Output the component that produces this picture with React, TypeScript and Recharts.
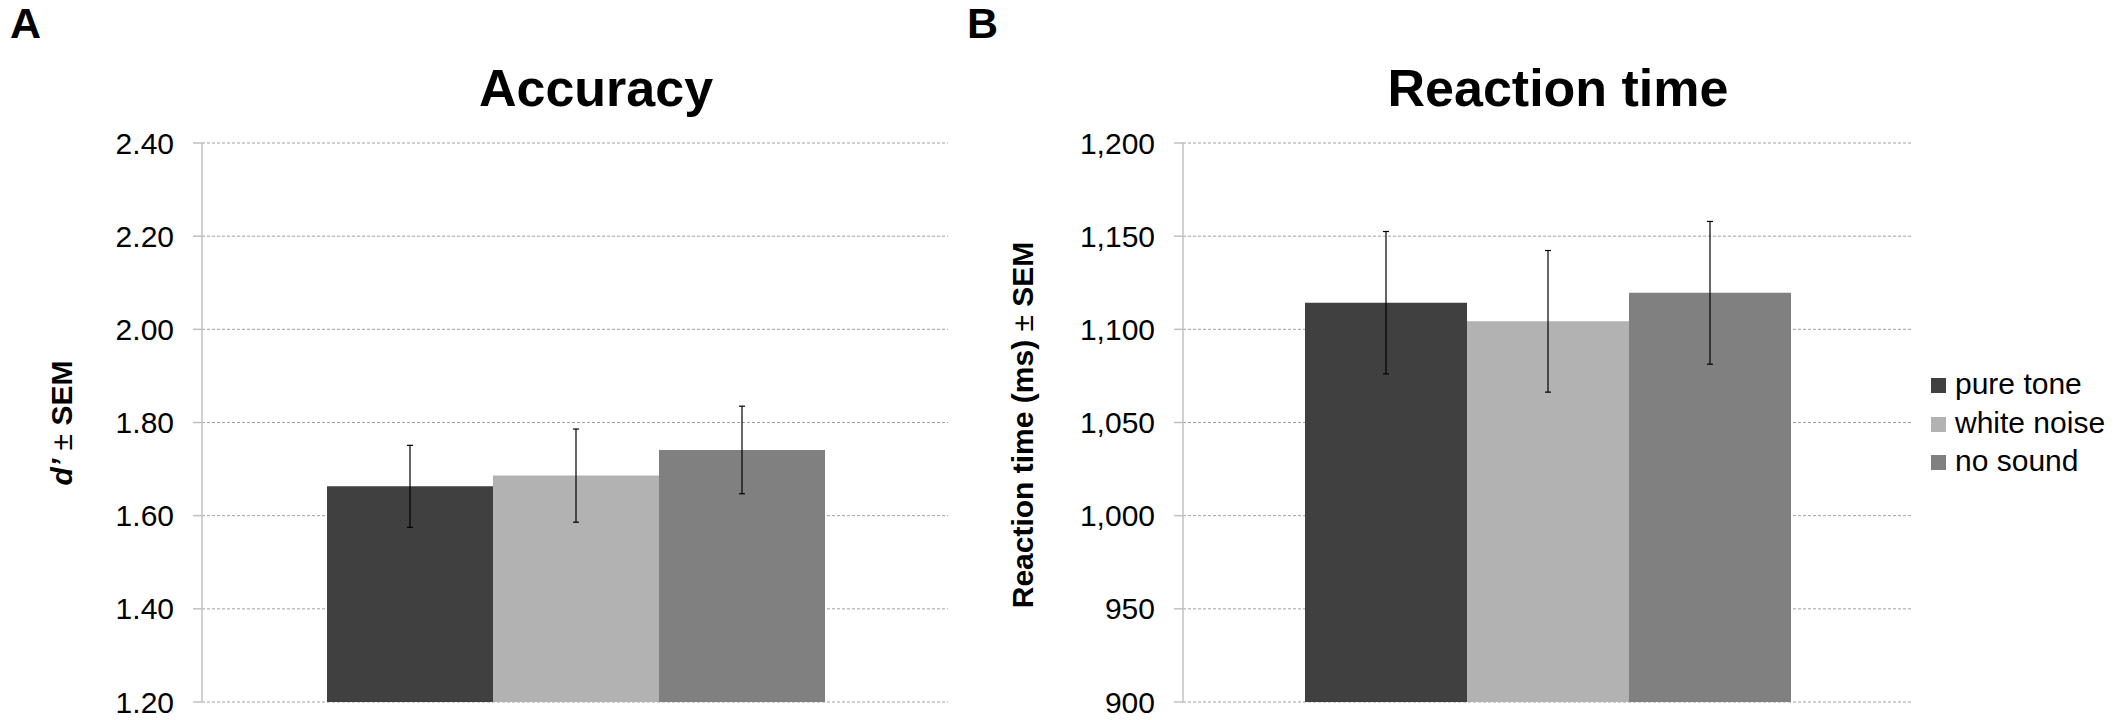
import React from 'react';
import { BarChart, Bar, XAxis, YAxis, CartesianGrid, ErrorBar, Label } from 'recharts';

const conditions = ['pure tone', 'white noise', 'no sound'];
const seriesKeys = ['pureTone', 'whiteNoise', 'noSound'];
const colors = ['#404040', '#b2b2b2', '#808080'];

const accuracyMeans = [1.663, 1.686, 1.741];
const accuracySem = [0.088, 0.1, 0.094];
const accuracyTicks = [1.2, 1.4, 1.6, 1.8, 2.0, 2.2, 2.4];

const rtMeans = [1114.3, 1104.3, 1119.6];
const rtSem = [38.2, 38.0, 38.3];
const rtTicks = [900, 950, 1000, 1050, 1100, 1150, 1200];

const FONT = '"Liberation Sans", Arial, Helvetica, sans-serif';

const buildRow = (means: number[], sems: number[]) => {
  const row: Record<string, any> = { group: '' };
  seriesKeys.forEach((k, i) => {
    row[k] = means[i];
    row[k + 'Err'] = sems[i];
  });
  return [row];
};

const accuracyData = buildRow(accuracyMeans, accuracySem);
const rtData = buildRow(rtMeans, rtSem);

interface PanelProps {
  data: any[];
  ticks: number[];
  width: number;
  margin: { top: number; right: number; bottom: number; left: number };
  yAxisWidth: number;
  padding: { left: number; right: number };
  format: (v: number) => string;
  label: React.ReactNode;
}

const Panel = ({ data, ticks, width, margin, yAxisWidth, padding, format, label }: PanelProps) => (
  <BarChart width={width} height={720} data={data} margin={margin} barCategoryGap={0} barGap={0}>
    <CartesianGrid vertical={false} stroke="#a0a0a0" strokeDasharray="3 2" />
    <XAxis dataKey="group" hide padding={padding} />
    <YAxis
      width={yAxisWidth}
      domain={[ticks[0], ticks[ticks.length - 1]]}
      ticks={ticks}
      interval={0}
      tickFormatter={format}
      tickSize={9}
      tickMargin={19}
      axisLine={{ stroke: '#c0c0c0', strokeWidth: 1.5 }}
      tickLine={{ stroke: '#c0c0c0', strokeWidth: 1.5 }}
      tick={{ fill: '#000', fontSize: 30, fontFamily: FONT }}
    >
      <Label content={() => label} />
    </YAxis>
    {seriesKeys.map((k, i) => (
      <Bar key={k} dataKey={k} name={conditions[i]} fill={colors[i]} isAnimationActive={false}>
        <ErrorBar dataKey={k + 'Err'} width={3} stroke="#000" strokeWidth={1.2} isAnimationActive={false} />
      </Bar>
    ))}
  </BarChart>
);

const accuracyLabel = (
  <text
    x={72}
    y={423}
    transform="rotate(-90, 72, 423)"
    textAnchor="middle"
    fontFamily={FONT}
    fontSize={30}
    fontWeight="bold"
    fill="#000"
  >
    <tspan fontStyle="italic">d’</tspan>
    <tspan fontWeight="normal"> ± </tspan>
    <tspan>SEM</tspan>
  </text>
);

const rtLabel = (
  <text
    x={33}
    y={425}
    transform="rotate(-90, 33, 425)"
    textAnchor="middle"
    fontFamily={FONT}
    fontSize={30}
    fontWeight="bold"
    fill="#000"
  >
    <tspan>Reaction time (ms)</tspan>
    <tspan fontWeight="normal"> ± </tspan>
    <tspan>SEM</tspan>
  </text>
);

export default function App() {
  return (
    <div style={{ position: 'absolute', left: 0, top: 0, width: 2117, height: 720, background: '#fff', fontFamily: FONT }}>
      <div style={{ position: 'absolute', left: 0, top: 0 }}>
        <Panel
          data={accuracyData}
          ticks={accuracyTicks}
          width={1000}
          margin={{ top: 143, right: 52, bottom: 18, left: 122 }}
          yAxisWidth={80}
          padding={{ left: 125, right: 122 }}
          format={(v) => v.toFixed(2)}
          label={accuracyLabel}
        />
      </div>
      <div style={{ position: 'absolute', left: 1000, top: 0 }}>
        <Panel
          data={rtData}
          ticks={rtTicks}
          width={1117}
          margin={{ top: 143, right: 204, bottom: 18, left: 83 }}
          yAxisWidth={100}
          padding={{ left: 122, right: 121 }}
          format={(v) => v.toLocaleString('en-US')}
          label={rtLabel}
        />
      </div>
      <svg width={2117} height={720} style={{ position: 'absolute', left: 0, top: 0, pointerEvents: 'none' }}>
        <text x={10} y={38} fontFamily={FONT} fontSize={43} fontWeight="bold" fill="#000">A</text>
        <text x={967} y={38} fontFamily={FONT} fontSize={43} fontWeight="bold" fill="#000">B</text>
        <text x={596} y={106} textAnchor="middle" fontFamily={FONT} fontSize={52} fontWeight="bold" fill="#000">Accuracy</text>
        <text x={1558} y={106} textAnchor="middle" fontFamily={FONT} fontSize={52} fontWeight="bold" fill="#000">Reaction time</text>
      </svg>
      <div style={{ position: 'absolute', left: 1931, top: 365, fontSize: 30, fontFamily: FONT, color: '#000' }}>
        {conditions.map((c, i) => (
          <div key={c} style={{ display: 'flex', alignItems: 'center', height: 38.5, whiteSpace: 'nowrap' }}>
            <span style={{ display: 'inline-block', width: 15, height: 15, background: colors[i], marginRight: 9, marginTop: 3 }} />
            <span>{c}</span>
          </div>
        ))}
      </div>
    </div>
  );
}
